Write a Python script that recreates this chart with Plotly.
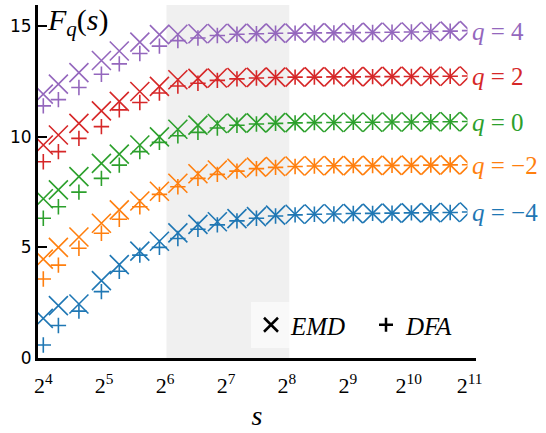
import math
import plotly.graph_objects as go

# window sizes s (log-spaced integers)
s = [16, 19, 24, 31, 38, 48, 60, 74, 93, 116, 145, 181, 225, 281, 350, 437,
     545, 679, 847, 1056, 1317, 1642, 2048]

q_values = [-4, -2, 0, 2, 4]
colors = ["#1f77b4", "#ff7f0e", "#2ca02c", "#d62728", "#9467bd"]

emd_qm4 = [1.79, 2.37, 2.44, 3.50, 4.22, 4.83, 5.28, 5.66, 6.04, 6.16, 6.30, 6.39,
           6.46, 6.50, 6.51, 6.52, 6.53, 6.54, 6.55, 6.56, 6.57, 6.58, 6.60]
dfa_qm4 = [0.59, 1.47, 2.12, 3.00, 3.92, 4.65, 5.00, 5.40, 5.82, 6.02, 6.20, 6.32,
           6.42, 6.47, 6.50, 6.51, 6.53, 6.54, 6.55, 6.56, 6.57, 6.58, 6.60]
emd_qm2 = [4.47, 5.00, 5.47, 6.09, 6.70, 7.10, 7.54, 7.90, 8.33, 8.50, 8.58, 8.63,
           8.66, 8.68, 8.69, 8.70, 8.70, 8.71, 8.71, 8.72, 8.72, 8.73, 8.74]
dfa_qm2 = [3.57, 4.20, 4.96, 5.64, 6.27, 6.84, 7.40, 7.74, 8.12, 8.30, 8.45, 8.56,
           8.62, 8.66, 8.68, 8.69, 8.70, 8.70, 8.71, 8.71, 8.72, 8.73, 8.74]
emd_q0 = [7.20, 7.60, 8.20, 8.80, 9.22, 9.63, 10.00, 10.34, 10.53, 10.60, 10.62, 10.63,
          10.64, 10.64, 10.65, 10.65, 10.66, 10.66, 10.67, 10.67, 10.68, 10.68, 10.69]
dfa_q0 = [6.32, 6.84, 7.50, 8.12, 8.72, 9.33, 9.75, 10.05, 10.20, 10.40, 10.52, 10.58,
          10.61, 10.63, 10.64, 10.65, 10.66, 10.66, 10.67, 10.67, 10.68, 10.68, 10.69]
emd_q2 = [9.63, 10.08, 10.61, 11.17, 11.60, 12.05, 12.28, 12.58, 12.64, 12.66, 12.68, 12.69,
          12.70, 12.70, 12.71, 12.71, 12.72, 12.72, 12.73, 12.73, 12.74, 12.74, 12.75]
dfa_q2 = [8.87, 9.33, 9.93, 10.46, 11.22, 11.55, 11.98, 12.30, 12.42, 12.55, 12.62, 12.66,
          12.68, 12.70, 12.70, 12.71, 12.71, 12.72, 12.72, 12.73, 12.73, 12.74, 12.75]
emd_q4 = [11.93, 12.38, 12.90, 13.45, 13.88, 14.28, 14.62, 14.64, 14.66, 14.67, 14.68, 14.68,
          14.69, 14.69, 14.70, 14.70, 14.71, 14.72, 14.73, 14.74, 14.76, 14.78, 14.80]
dfa_q4 = [11.40, 11.68, 12.23, 12.83, 13.30, 13.77, 14.10, 14.35, 14.47, 14.58, 14.64, 14.66,
          14.68, 14.69, 14.70, 14.70, 14.71, 14.72, 14.73, 14.74, 14.76, 14.78, 14.80]

emd = [emd_qm4, emd_qm2, emd_q0, emd_q2, emd_q4]
dfa = [dfa_qm4, dfa_qm2, dfa_q0, dfa_q2, dfa_q4]

fit_range = [65, 263]
x_tickvals = [16, 32, 64, 128, 256, 512, 1024, 2048]
x_ticktext = ["2<sup>4</sup>", "2<sup>5</sup>", "2<sup>6</sup>", "2<sup>7</sup>",
              "2<sup>8</sup>", "2<sup>9</sup>", "2<sup>10</sup>", "2<sup>11</sup>"]
y_tickvals = [0, 5, 10, 15]

W, H = 546, 433
ML, MR, MT, MB = 38, 70, 5, 75
SERIF = "Liberation Serif"

fig = go.Figure()
for qv, col, e, d in zip(q_values, colors, emd, dfa):
    fig.add_trace(go.Scatter(x=s, y=e, mode="markers", showlegend=False,
                             marker=dict(symbol="x-thin", size=19, color=col,
                                         line=dict(width=1.6, color=col))))
    fig.add_trace(go.Scatter(x=s, y=d, mode="markers", showlegend=False,
                             marker=dict(symbol="cross-thin", size=11, color=col,
                                         line=dict(width=1.6, color=col))))

# legend entries
fig.add_trace(go.Scatter(x=[None], y=[None], mode="markers", name="<i>EMD</i>",
                         marker=dict(symbol="x-thin", size=14, color="black",
                                     line=dict(width=2.5, color="black"))))
fig.add_trace(go.Scatter(x=[None], y=[None], mode="markers", name="<i>DFA</i>",
                         marker=dict(symbol="cross-thin", size=10, color="black",
                                     line=dict(width=2.5, color="black"))))

fig.add_shape(type="rect", xref="x", yref="paper", x0=fit_range[0], x1=fit_range[1],
              y0=0, y1=1, fillcolor="#f0f0f0", line=dict(width=0), layer="below")

# q labels
plot_w = W - ML - MR
for qv, col, e in zip(q_values, colors, emd):
    lab = "<i>q</i> = " + (str(qv) if qv >= 0 else "\u2212" + str(-qv))
    fig.add_annotation(x=(467 - ML) / plot_w, xref="paper", y=sum(e[-8:]) / 8, yref="y",
                       text=lab, showarrow=False, xanchor="left", yanchor="middle",
                       bgcolor="white", borderpad=4,
                       font=dict(family=SERIF, size=25, color=col))

fig.add_annotation(x=(45 - ML) / plot_w, xref="paper", y=1.01, yref="paper",
                   text="<i>F</i><sub><i>q</i></sub>(<i>s</i>)", showarrow=False,
                   xanchor="left", yanchor="top",
                   font=dict(family=SERIF, size=30, color="black"))

fig.update_layout(
    width=W, height=H, margin=dict(l=ML, r=MR, t=MT, b=MB, autoexpand=False),
    paper_bgcolor="white", plot_bgcolor="white",
    xaxis=dict(type="log", range=[math.log10(2 ** 3.913), math.log10(2 ** 11.105)],
               tickvals=x_tickvals, ticktext=x_ticktext, ticks="",
               ticklabelstandoff=6,
               showgrid=False, zeroline=False, showline=True, linecolor="black",
               linewidth=3, tickfont=dict(family=SERIF, size=22, color="black"),
               title=dict(text="<i>s</i>", font=dict(family=SERIF, size=28, color="black"),
                          standoff=8)),
    yaxis=dict(range=[0, 15.96], tickvals=y_tickvals, ticks="inside", ticklen=9,
               tickwidth=2, tickcolor="black", showgrid=False, zeroline=False,
               showline=True, linecolor="black", linewidth=3,
               tickfont=dict(family="DejaVu Sans", size=17, color="black")),
    legend=dict(orientation="h", x=(251 - ML) / plot_w, y=(358 - 302) / (H - MT - MB),
                xanchor="left", yanchor="top", bgcolor="rgba(255,255,255,0.6)",
                entrywidth=70, entrywidthmode="pixels",
                font=dict(family=SERIF, size=25, color="black")),
)

fig.write_html("out.html")
